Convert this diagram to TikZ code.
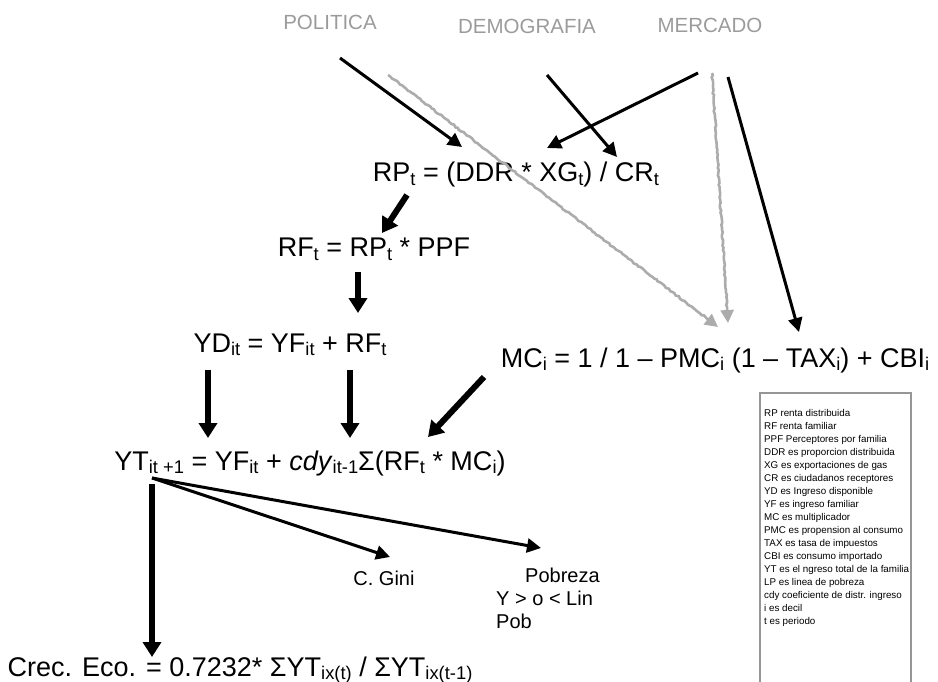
\documentclass[tikz,border=0pt]{standalone}
\usepackage{fontspec}
\setmainfont{Liberation Sans}
\usepackage{graphicx}
\usetikzlibrary{arrows.meta,decorations.pathmorphing}
\definecolor{labelgray}{RGB}{155,155,155}
\definecolor{flowgray}{RGB}{172,172,172}
\definecolor{boxgray}{RGB}{150,150,150}
% lowered small index, as used in the formulas
\newcommand{\lw}[1]{\raisebox{-0.12em}{\scalebox{0.68}{#1}}}

\begin{document}
\begin{tikzpicture}[x=1pt,y=-1pt,
  formula/.style={font=\fontsize{27}{32}\selectfont, inner sep=0pt, anchor=base},
  topic/.style={font=\fontsize{20.5}{24}\selectfont, text=labelgray, inner sep=0pt, anchor=base},
  note/.style={font=\fontsize{20}{23}\selectfont, inner sep=0pt},
  link/.style={line width=3pt, -{Triangle[length=14pt,width=14pt]}},
  bold link/.style={line width=6pt, -{Triangle[length=15pt,width=18pt]}},
  gray link/.style={draw=flowgray, line width=2.6pt,
    -{Triangle[length=13pt,width=13pt]},
    decoration={random steps, segment length=2.5pt, amplitude=0.7pt, post length=14pt},
    decorate},
  frame/.style={draw=boxgray, line width=1.3pt},
]
\pgfmathsetseed{7}
\useasboundingbox (0,0) rectangle (938,682);

% sources
\node[topic] (pol) at (330,30) {POLITICA};
\node[topic] (dem) at (527,34) {DEMOGRAFIA};
\node[topic] (mer) at (710,33) {MERCADO};

% model equations
\node[formula] (rp) at (516,182) {RP\lw{t} = (DDR * XG\lw{t}) / CR\lw{t}};
\node[formula] (rf) at (374,257) {RF\lw{t} = RP\lw{t} * PPF};
\node[formula] (yd) at (290,352) {YD\lw{it} = YF\lw{it} + RF\lw{t}};
\node[formula] (mc) at (715,367) {MC\lw{i} = 1 / 1 -- PMC\lw{i} (1 -- TAX\lw{i}) + CBI\lw{i}};
\node[formula] (yt) at (310,470) {YT\lw{it +1} = YF\lw{it} + \textit{cdy}\lw{it-1}Σ(RF\lw{t} * MC\lw{i})};
\node[formula] (crec) at (240,676) {Crec. Eco. = 0.7232* ΣYT\lw{ix(t)} / ΣYT\lw{ix(t-1)}};

% outcomes
\node[note, anchor=base] (gini) at (384,585) {C. Gini};
\node[note, anchor=north west, align=left] (pob) at (496,568) {\hspace*{29pt}Pobreza\\Y > o < Lin\\Pob};

% key
\node[anchor=north west, align=left, inner sep=0pt, font=\fontsize{9.8}{13}\selectfont] (key) at (764,409) {%
RP renta distribuida\\
RF renta familiar\\
PPF Perceptores por familia\\
DDR es proporcion distribuida\\
XG es exportaciones de gas\\
CR es ciudadanos receptores\\
YD es Ingreso disponible\\
YF es ingreso familiar\\
MC es multiplicador\\
PMC es propension al consumo\\
TAX es tasa de impuestos\\
CBI es consumo importado\\
YT es el ngreso total de la familia\\
LP es linea de pobreza\\
cdy coeficiente de distr. ingreso\\
i es decil\\
t es periodo};
\draw[frame] (760,393) rectangle (911,700);

% inputs from the sources
\draw[link] ([xshift=10pt,yshift=-28pt]pol.base) -- ([xshift=-54pt,yshift=35pt]rp.base);
\draw[gray link] ([xshift=58pt,yshift=-45pt]pol.base) -- ([xshift=3pt,yshift=40pt]mc.base);
\draw[link] ([xshift=20pt,yshift=-41pt]dem.base) -- ([xshift=101pt,yshift=25pt]rp.base);
\draw[link] ([xshift=-12pt,yshift=-40pt]mer.base) -- ([xshift=31pt,yshift=34pt]rp.base);
\draw[gray link] ([xshift=2pt,yshift=-40pt]mer.base) -- ([xshift=13pt,yshift=44pt]mc.base);
\draw[link] ([xshift=18pt,yshift=-44pt]mer.base) -- ([xshift=84pt,yshift=35pt]mc.base);

% chain of equations
\draw[bold link] ([xshift=-109pt,yshift=-13pt]rp.base) -- ([xshift=8pt,yshift=24pt]rf.base);
\draw[bold link] ([xshift=-16pt,yshift=-15pt]rf.base) -- ([xshift=68pt,yshift=39pt]yd.base);
\draw[bold link] ([xshift=-82pt,yshift=-18pt]yd.base) -- ([xshift=-102pt,yshift=32pt]yt.base);
\draw[bold link] ([xshift=60pt,yshift=-18pt]yd.base) -- ([xshift=40pt,yshift=32pt]yt.base);
\draw[bold link] ([xshift=-231pt,yshift=-10pt]mc.base) -- ([xshift=118pt,yshift=33pt]yt.base);

% results of total income
\coordinate (fork) at ([xshift=-158pt,yshift=-8pt]yt.base);
\draw[bold link] ([yshift=-6pt]fork) -- ([xshift=-88pt,yshift=19pt]crec.base);
\draw[link] (fork) -- ([xshift=6pt,yshift=28pt]gini.base);
\draw[link] (fork) -- ([xshift=45pt,yshift=20pt]pob.north west);
\end{tikzpicture}
\end{document}
